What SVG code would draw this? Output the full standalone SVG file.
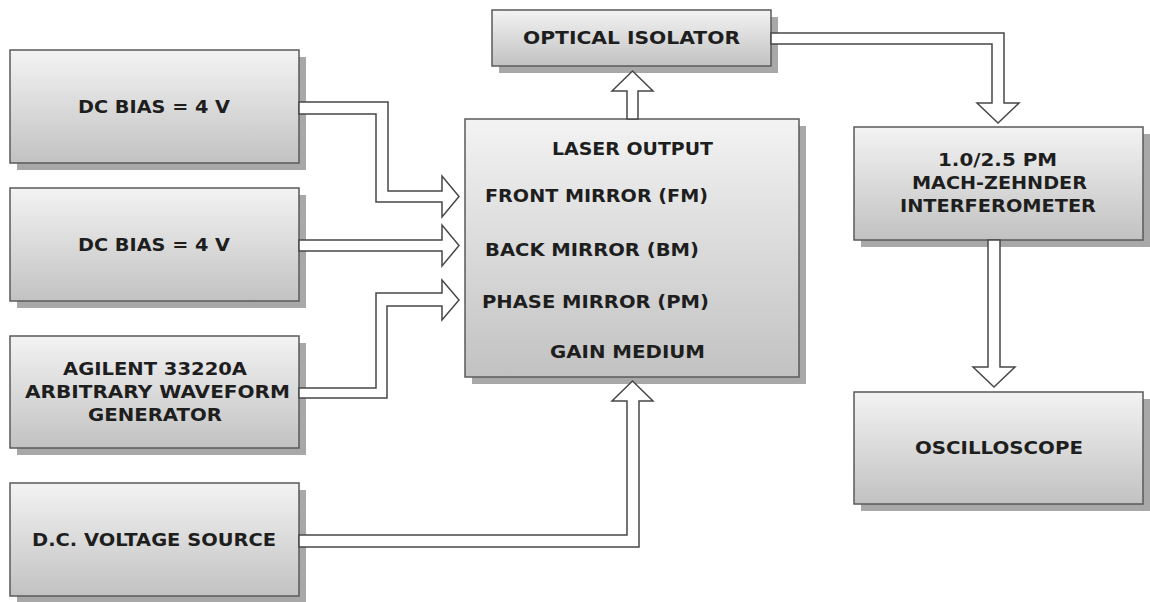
<svg xmlns="http://www.w3.org/2000/svg" width="1150" height="602" viewBox="0 0 1150 602">
<defs>
<linearGradient id="g" x1="0" y1="0" x2="0" y2="1">
<stop offset="0" stop-color="#f3f3f3"/>
<stop offset="1" stop-color="#c2c2c2"/>
</linearGradient>
</defs>
<style>
.sh{fill:#a8a8a8}
.bx{fill:url(#g);stroke:#5a5a5a;stroke-width:1.5}
.t{font-family:"DejaVu Sans","Liberation Sans",sans-serif;font-weight:bold;font-size:18px;fill:#1e1e1e}
.c{fill:#ffffff;stroke:#474747;stroke-width:1.5;stroke-linejoin:miter}
</style>
<rect width="1150" height="602" fill="#ffffff"/>
<g id="dcbias1">
<rect class="sh" x="17" y="57" width="289" height="113"/>
<rect class="bx" x="10" y="50" width="289" height="113"/>
<text class="t" x="78" y="113" textLength="152" lengthAdjust="spacingAndGlyphs">DC BIAS = 4 V</text>
</g>
<g id="dcbias2">
<rect class="sh" x="17" y="195" width="289" height="113"/>
<rect class="bx" x="10" y="188" width="289" height="113"/>
<text class="t" x="78" y="251" textLength="152" lengthAdjust="spacingAndGlyphs">DC BIAS = 4 V</text>
</g>
<g id="agilent">
<rect class="sh" x="17" y="343" width="289" height="112"/>
<rect class="bx" x="10" y="336" width="289" height="112"/>
<text class="t" x="63" y="375" textLength="184" lengthAdjust="spacingAndGlyphs">AGILENT 33220A</text>
<text class="t" x="25" y="398" textLength="265" lengthAdjust="spacingAndGlyphs">ARBITRARY WAVEFORM</text>
<text class="t" x="88" y="421" textLength="134" lengthAdjust="spacingAndGlyphs">GENERATOR</text>
</g>
<g id="dcsource">
<rect class="sh" x="17" y="490" width="289" height="113"/>
<rect class="bx" x="10" y="483" width="289" height="113"/>
<text class="t" x="32" y="546" textLength="244" lengthAdjust="spacingAndGlyphs">D.C. VOLTAGE SOURCE</text>
</g>
<g id="laser">
<rect class="sh" x="472" y="126" width="334" height="258"/>
<rect class="bx" x="465" y="119" width="334" height="258"/>
<text class="t" x="552" y="155" textLength="161" lengthAdjust="spacingAndGlyphs">LASER OUTPUT</text>
<text class="t" x="485" y="202" textLength="223" lengthAdjust="spacingAndGlyphs">FRONT MIRROR (FM)</text>
<text class="t" x="485" y="256" textLength="214" lengthAdjust="spacingAndGlyphs">BACK MIRROR (BM)</text>
<text class="t" x="482" y="308" textLength="227" lengthAdjust="spacingAndGlyphs">PHASE MIRROR (PM)</text>
<text class="t" x="550" y="358" textLength="155" lengthAdjust="spacingAndGlyphs">GAIN MEDIUM</text>
</g>
<g id="isolator">
<rect class="sh" x="499" y="17" width="279" height="56"/>
<rect class="bx" x="492" y="10" width="279" height="56"/>
<text class="t" x="523" y="44" textLength="217" lengthAdjust="spacingAndGlyphs">OPTICAL ISOLATOR</text>
</g>
<g id="mzi">
<rect class="sh" x="861" y="134" width="289" height="113"/>
<rect class="bx" x="854" y="127" width="289" height="113"/>
<text class="t" x="938" y="166" textLength="119" lengthAdjust="spacingAndGlyphs">1.0/2.5 PM</text>
<text class="t" x="912" y="189" textLength="175" lengthAdjust="spacingAndGlyphs">MACH-ZEHNDER</text>
<text class="t" x="900" y="212" textLength="196" lengthAdjust="spacingAndGlyphs">INTERFEROMETER</text>
</g>
<g id="oscilloscope">
<rect class="sh" x="861" y="399" width="289" height="112"/>
<rect class="bx" x="854" y="392" width="289" height="112"/>
<text class="t" x="915" y="454" textLength="168" lengthAdjust="spacingAndGlyphs">OSCILLOSCOPE</text>
</g>
<g id="connectors">
<polygon class="c" points="299,102 388,102 388,191 442,191 442,176 459,196.5 442,217 442,202 376,202 376,114 299,114"/>
<polygon class="c" points="299,240 442,240 442,225 459,245.5 442,266 442,251 299,251"/>
<polygon class="c" points="299,388 376,388 376,293 442,293 442,280 459,300 442,320 442,306 387,306 387,398 299,398"/>
<polygon class="c" points="299,535 627,535 627,401 612,401 632.5,381 653,401 639,401 639,547 299,547"/>
<polygon class="c" points="627,119 627,91 612,91 632.5,71 653,91 638,91 638,119"/>
<polygon class="c" points="771,33 1004,33 1004,103 1019,103 998,123 977,103 992,103 992,44 771,44"/>
<polygon class="c" points="988,240 988,367 973,367 994,387 1015,367 1000,367 1000,240"/>
</g>
</svg>
